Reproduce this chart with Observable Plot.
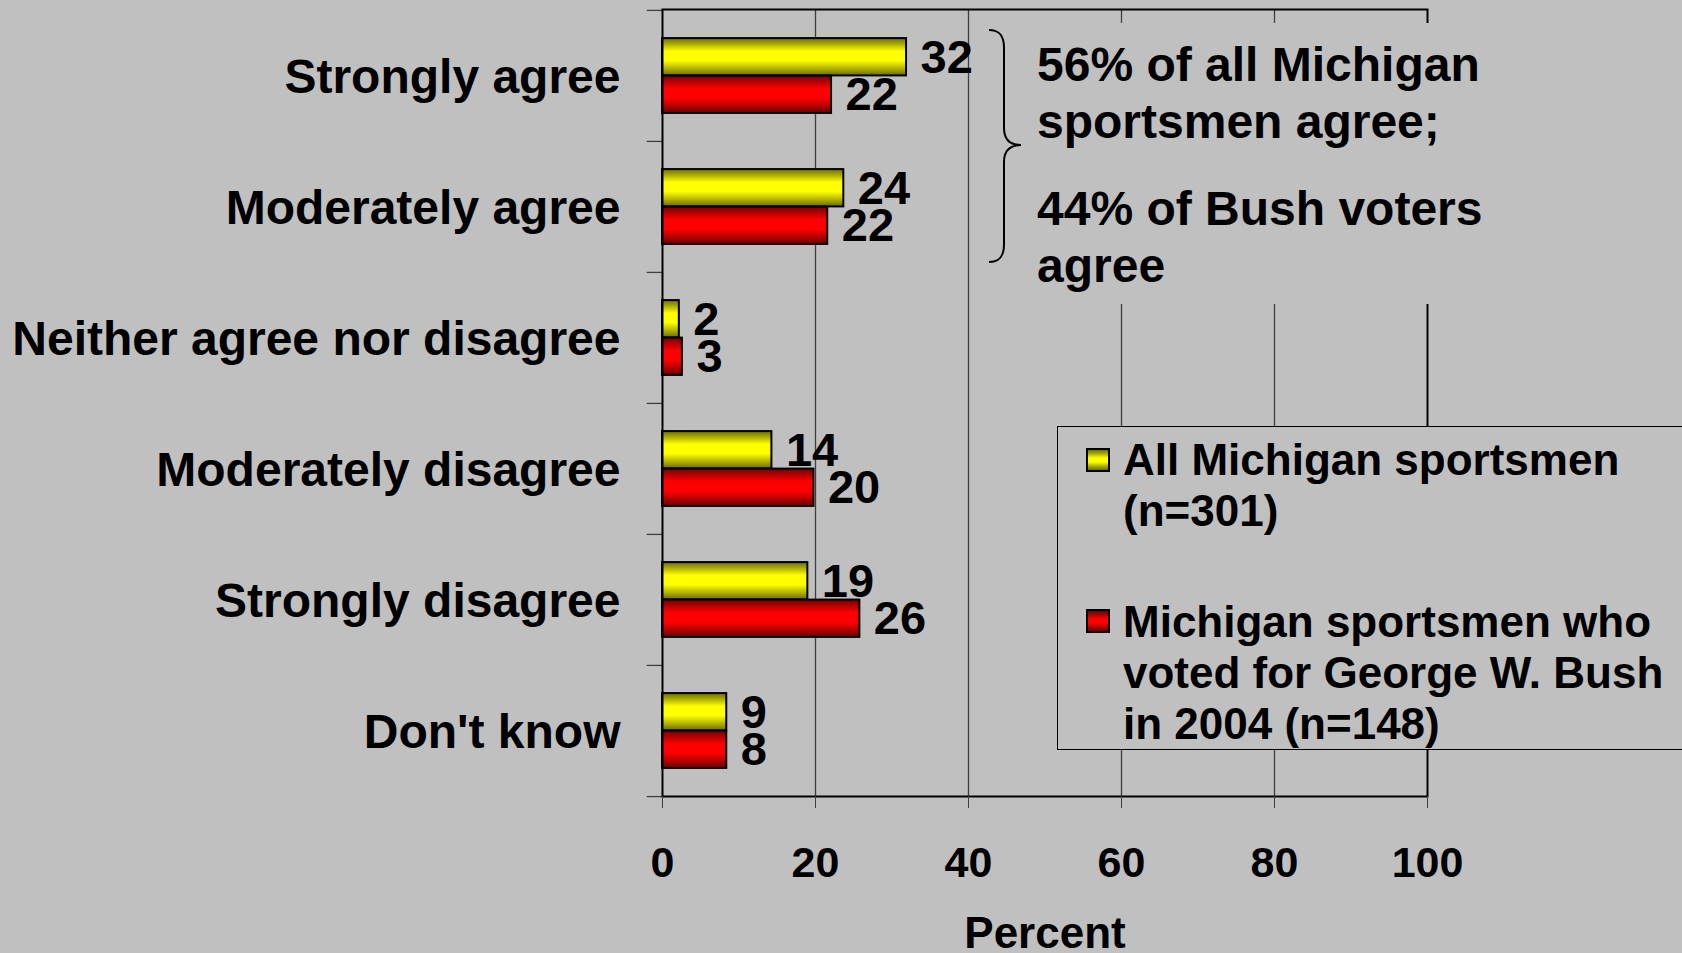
<!DOCTYPE html>
<html>
<head>
<meta charset="utf-8">
<script src="https://cdn.jsdelivr.net/npm/d3@7"></script>
<script src="https://cdn.jsdelivr.net/npm/@observablehq/plot@0.6"></script>
<style>
  html, body { margin: 0; padding: 0; background: #c0c0c0; overflow: hidden; }
  #wrap { position: relative; width: 1682px; height: 953px; font-family: "Liberation Sans", Arial, sans-serif; font-weight: bold; color: #000; }
  #chart svg { display: block; }
  .ov { position: absolute; }
  #notebox { left: 980px; top: 23px; width: 470px; height: 281px; background: #c0c0c0; }
  #note { left: 1037px; top: 36px; font-size: 48px; line-height: 57px; white-space: nowrap; }
  #note p { margin: 0; }
  #note p + p { margin-top: 30px; }
  #legend { left: 1057px; top: 426px; width: 640px; height: 324px; background: #c0c0c0; border: 1.5px solid #000; box-sizing: border-box; }
  .lg { position: absolute; left: 1123px; font-size: 44px; line-height: 51px; white-space: nowrap; }
  .sw { position: absolute; left: 1086px; width: 24px; height: 24px; border: 2px solid #000; box-sizing: border-box; }
  #brace { left: 0; top: 0; pointer-events: none; }
</style>
</head>
<body>
<div id="wrap">
  <div id="chart"></div>
  <div id="notebox" class="ov"></div>
  <div id="note" class="ov"></div>
  <svg id="brace" class="ov" width="1682" height="953"></svg>
  <div id="legend" class="ov"></div>
</div>
<script>
const categories = ["Strongly agree", "Moderately agree", "Neither agree nor disagree", "Moderately disagree", "Strongly disagree", "Don't know"];
const allValues = [31.9, 23.7, 2.2, 14.3, 19.0, 8.4];
const bushValues = [22.1, 21.6, 2.6, 19.8, 25.8, 8.4];
const allLabels = ["32", "24", "2", "14", "19", "9"];
const bushLabels = ["22", "22", "3", "20", "26", "8"];
const xTicks = [0, 20, 40, 60, 80, 100];
const gridTicks = [20, 40, 60, 80];
const seriesNames = ["All Michigan sportsmen (n=301)", "Michigan sportsmen who voted for George W. Bush in 2004 (n=148)"];
const legendLines = [["All Michigan sportsmen", "(n=301)"], ["Michigan sportsmen who", "voted for George W. Bush", "in 2004 (n=148)"]];
const noteParagraphs = [["56% of all Michigan", "sportsmen agree;"], ["44% of Bush voters", "agree"]];
const axisTitle = "Percent";

const table = categories.map((c, i) => ({
  category: c, all: allValues[i], bush: bushValues[i], allLabel: allLabels[i], bushLabel: bushLabels[i]
}));

const W = 1682, H = 953;
const mT = 9, mB = 157, mL = 662, mR = 255;
const step = (H - mT - mB) / categories.length;
const barH = 37.5;
const outer = (step - 2 * barH) / 2;

const plot = Plot.plot({
  width: W, height: H,
  marginTop: mT, marginBottom: mB, marginLeft: mL, marginRight: mR,
  style: { background: "#c0c0c0", fontFamily: "'Liberation Sans', Arial, sans-serif", fontWeight: "bold", color: "black" },
  x: { domain: [0, 100] },
  y: { domain: categories, padding: 0 },
  marks: [
    Plot.gridX({ ticks: gridTicks, stroke: "#404040", strokeOpacity: 1, strokeWidth: 1.3 }),
    Plot.barX(table, { y: "category", x: "all", fill: "url(#gradY)", stroke: "black", strokeWidth: 2, insetTop: outer, insetBottom: outer + barH }),
    Plot.barX(table, { y: "category", x: "bush", fill: "url(#gradR)", stroke: "black", strokeWidth: 2, insetTop: outer + barH, insetBottom: outer }),
    Plot.ruleY(categories, { y: d => d, x1: -2, x2: 0, dy: -step / 2, stroke: "#404040", strokeWidth: 1.3 }),
    Plot.ruleY(categories.slice(-1), { y: d => d, x1: -2, x2: 0, dy: step / 2, stroke: "#404040", strokeWidth: 1.3 }),
    Plot.frame({ stroke: "black", strokeWidth: 2 }),
    Plot.axisX({ ticks: xTicks, tickSize: 12, tickPadding: 38, fontSize: 43, fontWeight: "bold", stroke: "#404040", fill: "black", label: null }),
    Plot.axisY({ tickSize: 0, tickPadding: 42, fontSize: 48, fontWeight: "bold", fill: "black", label: null, dy: 2 }),
    Plot.text(table, { y: "category", x: "all", text: "allLabel", dx: 14, dy: -18, textAnchor: "start", fontSize: 47, fontWeight: "bold", fill: "black" }),
    Plot.text(table, { y: "category", x: "bush", text: "bushLabel", dx: 14, dy: 19, textAnchor: "start", fontSize: 47, fontWeight: "bold", fill: "black" }),
    Plot.text([axisTitle], { text: d => d, frameAnchor: "bottom", dy: 151, fontSize: 44, fontWeight: "bold", fill: "black" })
  ]
});

// gradients for cylinder-like bars
const NS = "http://www.w3.org/2000/svg";
const defs = document.createElementNS(NS, "defs");
function grad(id, stops) {
  const g = document.createElementNS(NS, "linearGradient");
  g.setAttribute("id", id);
  g.setAttribute("x1", "0"); g.setAttribute("y1", "0"); g.setAttribute("x2", "0"); g.setAttribute("y2", "1");
  stops.forEach(([o, c]) => {
    const s = document.createElementNS(NS, "stop");
    s.setAttribute("offset", o); s.setAttribute("stop-color", c);
    g.appendChild(s);
  });
  defs.appendChild(g);
}
grad("gradY", [["0", "#6e6e00"], ["0.15", "#a8a800"], ["0.35", "#ffff00"], ["0.6", "#ffff00"], ["0.82", "#b0b000"], ["1", "#6a6a00"]]);
grad("gradR", [["0", "#6e0000"], ["0.15", "#b00000"], ["0.35", "#ff0000"], ["0.6", "#ff0000"], ["0.82", "#b00000"], ["1", "#6a0000"]]);
plot.insertBefore(defs, plot.firstChild);
document.getElementById("chart").appendChild(plot);

// annotation
const note = document.getElementById("note");
noteParagraphs.forEach(lines => {
  const p = document.createElement("p");
  p.innerHTML = lines.map(l => l.replace(/&/g, "&amp;")).join("<br>");
  note.appendChild(p);
});

// brace
const brace = document.getElementById("brace");
const path = document.createElementNS(NS, "path");
path.setAttribute("d", "M 989 30 C 999 30, 1004 35, 1004 48 L 1004 128 C 1004 140, 1010 145, 1021 145 C 1010 145, 1004 150, 1004 162 L 1004 244 C 1004 257, 999 262, 989 262");
path.setAttribute("fill", "none");
path.setAttribute("stroke", "black");
path.setAttribute("stroke-width", "2");
brace.appendChild(path);

// legend
const wrap = document.getElementById("wrap");
const swatchTops = [448, 609];
const textTops = [433.5, 595.5];
const swatchBg = [
  "linear-gradient(#6e6e00, #b0b000 20%, #ffff00 40%, #ffff00 60%, #b0b000 80%, #6a6a00)",
  "linear-gradient(#6e0000, #b00000 20%, #ff0000 40%, #ff0000 60%, #b00000 80%, #6a0000)"
];
legendLines.forEach((lines, i) => {
  const sw = document.createElement("div");
  sw.className = "sw";
  sw.style.top = swatchTops[i] + "px";
  sw.style.background = swatchBg[i];
  sw.title = seriesNames[i];
  wrap.appendChild(sw);
  const t = document.createElement("div");
  t.className = "lg";
  t.style.top = textTops[i] + "px";
  t.innerHTML = lines.join("<br>");
  wrap.appendChild(t);
});
</script>
</body>
</html>
